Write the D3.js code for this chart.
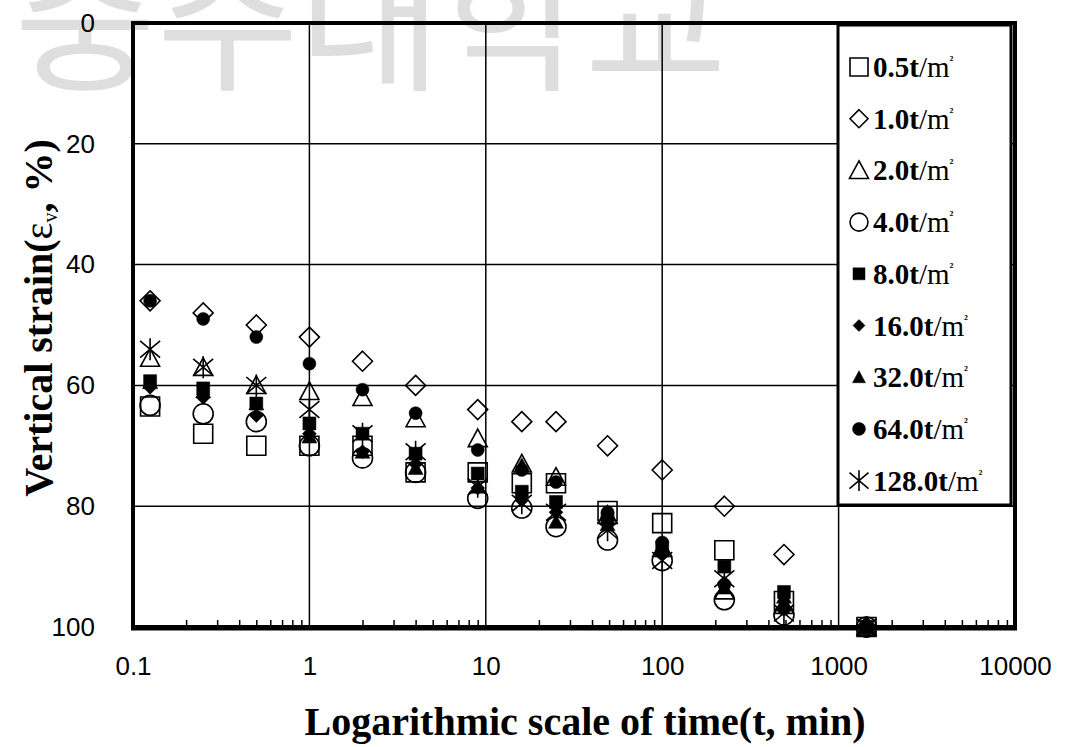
<!DOCTYPE html>
<html>
<head>
<meta charset="utf-8">
<script src="https://cdn.jsdelivr.net/npm/d3@7"></script>
<style>
  body { margin: 0; background: #fff; }
  svg { display: block; }
</style>
</head>
<body>
<svg id="chart"></svg>
<script>
// elapsed time (min) for every reading
const times = [0.125, 0.25, 0.5, 1, 2, 4, 9, 16, 25, 49, 100, 225, 490, 1440];

// vertical strain (%) per load step
const s05  = [63.5, 68, 70, 70, 70, 74.4, 74.4, 76.2, 76.2, 80.8, 82.8, 87.3, 95.7, 100];
const s10  = [46, 48, 50, 52, 56, 60, 64, 66, 66, 70, 74, 80, 88, 100];
const s20  = [55.5, 57, 60, 61, 62, 65.5, 68.8, 73, 75.2, 81.5, 87, 94, 96.4, 100];
const s40  = [63.3, 64.7, 66, 70, 72, 74.4, 78.7, 80.3, 83.4, 85.6, 89, 95.5, 98, 100];
const s80  = [59.3, 60.5, 63, 66.3, 68, 71.3, 74.6, 77.6, 79.3, 82, 86.8, 90, 94.2, 100];
const s160 = [60.3, 62, 65, 68, 71, 73, 77, 79, 81, 83, 88, 92.7, 96.7, 100];
const s320 = [59.5, 61, 63, 68.5, 71, 73.7, 76.8, 73.2, 82.6, 83, 87.3, 93.5, 95, 100];
const s640 = [46, 49, 52, 56.4, 60.7, 64.6, 70.7, 74, 76, 81, 86, 93, 97, 100];
const s1280 = [54, 57, 60, 64, 68, 71, 76.8, 79.5, 81, 84, 89, 92, 97.7, 100];

const loads = ["0.5", "1.0", "2.0", "4.0", "8.0", "16.0", "32.0", "64.0", "128.0"];
const shapes = ["square", "diamond", "triangle", "circle", "fsquare", "fdiamond", "ftriangle", "fcircle", "star"];
const seriesVals = [s05, s10, s20, s40, s80, s160, s320, s640, s1280];

const xTicks = [0.1, 1, 10, 100, 1000, 10000];
const yTicks = [0, 20, 40, 60, 80, 100];

const W = 1068, H = 747;
const svg = d3.select("#chart").attr("width", W).attr("height", H);

const x = d3.scaleLog().domain([0.1, 10000]).range([133, 1015]);
const y = d3.scaleLinear().domain([0, 100]).range([23, 627]);

// faint watermark behind the plot
svg.append("text")
  .attr("x", 14).attr("y", 78)
  .attr("font-family", "'Noto Sans CJK KR', sans-serif")
  .attr("font-size", 155)
  .attr("fill", "#dedede")
  .text("충주대학교");

// grid
const grid = svg.append("g");
grid.selectAll(".gx").data([1, 10, 100, 1000]).join("line")
  .attr("x1", d => x(d)).attr("x2", d => x(d))
  .attr("y1", y(0)).attr("y2", y(100))
  .attr("stroke", "#000").attr("stroke-width", 1.5);
grid.selectAll(".gy").data([20, 40, 60, 80]).join("line")
  .attr("x1", x(0.1)).attr("x2", x(10000))
  .attr("y1", d => y(d)).attr("y2", d => y(d))
  .attr("stroke", "#000").attr("stroke-width", 1.5);

// marker shapes, s = nominal size in px
function shapePath(type, s) {
  const h = s / 2;
  switch (type) {
    case "square": case "fsquare":
      return `M${-h},${-h}H${h}V${h}H${-h}Z`;
    case "diamond": case "fdiamond":
      return `M0,${-h}L${h},0L0,${h}L${-h},0Z`;
    case "triangle": case "ftriangle":
      return `M0,${-h}L${h},${h * 0.85}L${-h},${h * 0.85}Z`;
    case "circle": case "fcircle":
      return `M${h},0A${h},${h} 0 1,1 ${-h},0A${h},${h} 0 1,1 ${h},0Z`;
    case "star": {
      const a = 40 * Math.PI / 180, hy = h * 1.1;
      const dx = h, dy = h * Math.tan(a);
      return `M0,${-hy}V${hy}M${-dx},${-dy}L${dx},${dy}M${-dx},${dy}L${dx},${-dy}`;
    }
  }
}
const markerSize = {square: 19, diamond: 20, triangle: 19, circle: 20,
  fsquare: 13, fdiamond: 14, ftriangle: 15, fcircle: 13, star: 20};
const legendSize = {square: 18, diamond: 18, triangle: 19, circle: 18,
  fsquare: 12, fdiamond: 12, ftriangle: 13, fcircle: 13, star: 19};

function styleMarker(sel, type) {
  const filled = type.startsWith("f");
  sel.attr("fill", filled ? "#000" : "none")
    .attr("stroke", "#000")
    .attr("stroke-width", filled ? 0.5 : 1.6);
}

// frame
svg.append("rect")
  .attr("x", x(0.1)).attr("y", y(0))
  .attr("width", x(10000) - x(0.1)).attr("height", y(100) - y(0))
  .attr("fill", "none").attr("stroke", "#000").attr("stroke-width", 4);
svg.append("line")
  .attr("x1", x(0.1) - 2).attr("x2", x(10000) + 2)
  .attr("y1", y(100) + 1).attr("y2", y(100) + 1)
  .attr("stroke", "#000").attr("stroke-width", 5);

// minor ticks on the bottom edge
const minor = [];
for (let e = -1; e < 4; e++) for (let k = 2; k <= 9; k++) minor.push(k * Math.pow(10, e));
const minorAxis = d3.axisBottom(x).tickValues(minor).tickSize(-7).tickFormat("");
const gm = svg.append("g").attr("transform", `translate(0,${y(100)})`).call(minorAxis);
gm.select(".domain").remove();
gm.selectAll("line").attr("stroke-width", 1.5);

// data points
const pts = svg.append("g");
seriesVals.forEach((vals, i) => {
  const type = shapes[i];
  pts.append("g").selectAll("path").data(vals.map((v, j) => [times[j], v])).join("path")
    .attr("d", shapePath(type, markerSize[type]))
    .attr("transform", d => `translate(${x(d[0])},${y(d[1])})`)
    .call(styleMarker, type);
});

// legend
const legendBox = {x0: 838, x1: 1011, y0: 25, y1: 505};
svg.append("rect")
  .attr("x", legendBox.x0).attr("y", legendBox.y0)
  .attr("width", legendBox.x1 - legendBox.x0).attr("height", legendBox.y1 - legendBox.y0)
  .attr("fill", "#fff").attr("stroke", "#000").attr("stroke-width", 3);
const lg = svg.append("g");
loads.forEach((lab, i) => {
  const cy = 67 + i * 51.7;
  const type = shapes[i];
  lg.append("path")
    .attr("d", shapePath(type, legendSize[type]))
    .attr("transform", `translate(859,${cy})`)
    .call(styleMarker, type);
  const t = lg.append("text")
    .attr("x", 873).attr("y", cy + 10)
    .attr("font-family", "'Liberation Serif', 'Times New Roman', serif")
    .attr("font-size", 29).attr("font-weight", "bold");
  t.append("tspan").text(lab + "t");
  t.append("tspan").attr("font-weight", "normal").text("/m");
  t.append("tspan").attr("font-size", 13).attr("dy", -13).text("²");
});

// tick labels
const yAxis = d3.axisLeft(y).tickValues(yTicks).tickSize(0).tickPadding(38);
const gy = svg.append("g").attr("transform", `translate(${x(0.1)},0)`).call(yAxis);
gy.select(".domain").remove();
gy.selectAll("text").attr("font-family", "'Liberation Sans', Arial, sans-serif")
  .attr("font-size", 26).attr("fill", "#000");

const xAxis = d3.axisBottom(x).tickValues(xTicks).tickSize(0).tickPadding(30)
  .tickFormat(d => d < 1 ? "0.1" : String(d));
const gx = svg.append("g").attr("transform", `translate(0,${y(100)})`).call(xAxis);
gx.select(".domain").remove();
gx.selectAll("text").attr("font-family", "'Liberation Sans', Arial, sans-serif")
  .attr("font-size", 26).attr("fill", "#000");

// axis titles
svg.append("text")
  .attr("x", 585).attr("y", 735)
  .attr("text-anchor", "middle")
  .attr("font-family", "'Liberation Serif', 'Times New Roman', serif")
  .attr("font-size", 40).attr("font-weight", "bold")
  .text("Logarithmic scale of time(t, min)");

const yt = svg.append("text")
  .attr("transform", `translate(52,318) rotate(-90)`)
  .attr("text-anchor", "middle")
  .attr("font-family", "'Liberation Serif', 'Times New Roman', serif")
  .attr("font-size", 40).attr("font-weight", "bold");
yt.append("tspan").text("Vertical strain(");
yt.append("tspan").attr("font-weight", "normal").text("ε");
yt.append("tspan").attr("font-size", 20).attr("font-weight", "normal").attr("dy", 5).text("v");
yt.append("tspan").attr("dy", -5).text(", %)");
</script>
</body>
</html>
